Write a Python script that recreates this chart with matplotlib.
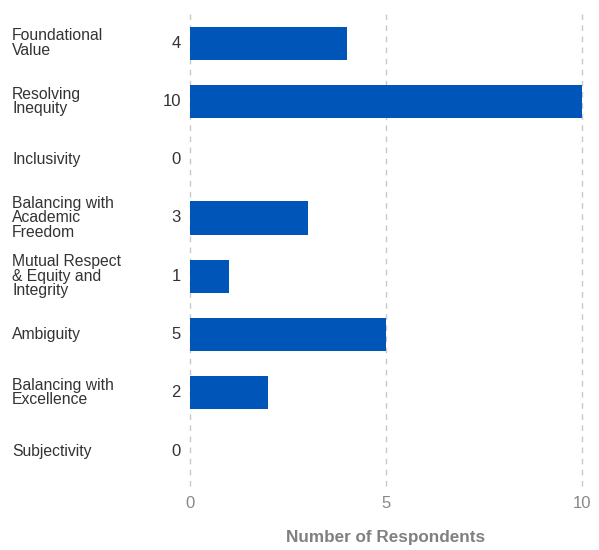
import matplotlib
matplotlib.use("Agg")
import matplotlib.pyplot as plt

categories = ["Foundational\nValue", "Resolving\nInequity", "Inclusivity",
              "Balancing with\nAcademic\nFreedom", "Mutual Respect\n& Equity and\nIntegrity",
              "Ambiguity", "Balancing with\nExcellence", "Subjectivity"]
counts = [4, 10, 0, 3, 1, 5, 2, 0]
xticks = [0, 5, 10]

plt.rcParams['font.family'] = ['Liberation Sans', 'DejaVu Sans']

fig = plt.figure(figsize=(5.99, 5.5), dpi=100)
ax = fig.add_axes([190 / 599, 1 - 486 / 550, 392 / 599, 472 / 550])

y = list(range(len(categories)))
ax.barh(y, counts, height=0.57, color='#0055b8', zorder=3)
ax.set_ylim(len(categories) - 0.4, -0.5)
ax.set_xlim(0, 10)

ax.set_xticks(xticks)
ax.set_xticklabels([str(t) for t in xticks], fontsize=12, color='#888888')
ax.tick_params(axis='x', length=0, pad=7)
ax.set_yticks([])
ax.grid(axis='x', linestyle=(0, (4, 4)), color='#c8c8c8', linewidth=1, zorder=0)
for line in ax.get_xgridlines():
    line.set_clip_on(False)
for s in ax.spines.values():
    s.set_visible(False)

ax.set_xlabel("Number of Respondents", fontsize=12.3, fontweight='bold', color='#808080', labelpad=14)

for yi, cat, c in zip(y, categories, counts):
    ax.annotate(cat, xy=(0, yi), xycoords=('figure fraction', 'data'),
                xytext=(12, 0), textcoords='offset pixels',
                ha='left', va='center', fontsize=11.3, color='#333333', linespacing=0.95)
    ax.annotate(str(c), xy=(0, yi), xycoords='data',
                xytext=(-9, 0), textcoords='offset pixels',
                ha='right', va='center', fontsize=12, color='#333333')

fig.savefig("out.png", dpi=100)
